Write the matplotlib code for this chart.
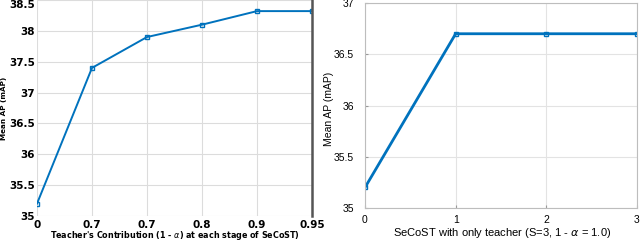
import matplotlib
matplotlib.use("Agg")
import matplotlib.pyplot as plt

# Left panel data
left_labels = ["0", "0.7", "0.7", "0.8", "0.9", "0.95"]
left_values = [35.2, 37.4, 37.9, 38.1, 38.32, 38.32]
left_yticks = [35, 35.5, 36, 36.5, 37, 37.5, 38, 38.5]
left_yticklabels = ["35", "35.5", "36", "36.5", "37", "37.5", "38", "38.5"]

# Right panel data
right_x = [0, 1, 2, 3]
right_values = [35.2, 36.7, 36.7, 36.7]
right_yticks = [35, 35.5, 36, 36.5, 37]
right_yticklabels = ["35", "35.5", "36", "36.5", "37"]

W, H = 640, 241
fig = plt.figure(figsize=(6.4, 2.41), dpi=100)
blue = "#0072BD"

def px(l, t, r, b):
    return [l / W, (H - b) / H, (r - l) / W, (b - t) / H]

# ---- Left axes
ax1 = fig.add_axes(px(37, 0, 312, 216))
xs = list(range(len(left_values)))
ax1.plot(xs, left_values, color=blue, lw=1.4, marker="s", ms=3, mfc="none", mew=1.0)
ax1.set_xlim(0, len(left_values) - 1)
ax1.set_ylim(35, 38.5)
ax1.set_xticks(xs)
ax1.set_xticklabels(left_labels, fontfamily="DejaVu Sans", fontweight="bold", fontsize=7.5)
ax1.set_yticks(left_yticks)
ylabs = ax1.set_yticklabels(left_yticklabels, fontfamily="DejaVu Sans", fontweight="bold", fontsize=7.5)
ylabs[-1].set_va("top")
ax1.grid(True, color="#dcdcdc", lw=0.8)
ax1.set_axisbelow(True)
for s in ["left", "bottom", "top"]:
    ax1.spines[s].set_visible(False)
ax1.spines["right"].set_color("#555555")
ax1.spines["right"].set_linewidth(1.8)
ax1.tick_params(axis="y", length=0, pad=1.5)
ax1.tick_params(axis="x", length=0, pad=3)
fig.text(175 / W, 1 - 236 / H, "Teacher's Contribution (1 - $\\alpha$) at each stage of SeCoST)",
         fontfamily="DejaVu Sans", fontweight="bold", fontsize=5.8, ha="center", va="center")
fig.text(4.5 / W, 1 - 108 / H, "Mean AP (mAP)", fontfamily="DejaVu Sans", fontweight="bold",
         fontsize=5.2, rotation=90, ha="center", va="center")

# ---- Right axes
ax2 = fig.add_axes(px(365, 3, 637, 208))
ax2.plot(right_x, right_values, color=blue, lw=2.0, marker="s", ms=3.5, mfc="none", mew=1.0)
ax2.set_xlim(0, 3)
ax2.set_ylim(35, 37)
ax2.set_xticks(right_x)
ax2.set_xticklabels([str(v) for v in right_x], fontfamily="Liberation Sans", fontsize=7.5)
ax2.set_yticks(right_yticks)
ax2.set_yticklabels(right_yticklabels, fontfamily="Liberation Sans", fontsize=7.5)
ax2.grid(True, color="#e3e3e3", lw=0.8)
ax2.set_axisbelow(True)
for s in ax2.spines.values():
    s.set_color("#bdbdbd")
    s.set_linewidth(0.8)
ax2.tick_params(axis="y", direction="in", length=2, color="#999999", pad=8)
ax2.tick_params(axis="x", direction="in", length=2, color="#999999", pad=5)
fig.text(502 / W, 1 - 233 / H, "SeCoST with only teacher (S=3, 1 - $\\alpha$ = 1.0)",
         fontfamily="Liberation Sans", fontsize=8, ha="center", va="center")
fig.text(329 / W, 1 - 109 / H, "Mean AP (mAP)", fontfamily="Liberation Sans", fontsize=7.5,
         rotation=90, ha="center", va="center")

fig.savefig("out.png", dpi=100)
